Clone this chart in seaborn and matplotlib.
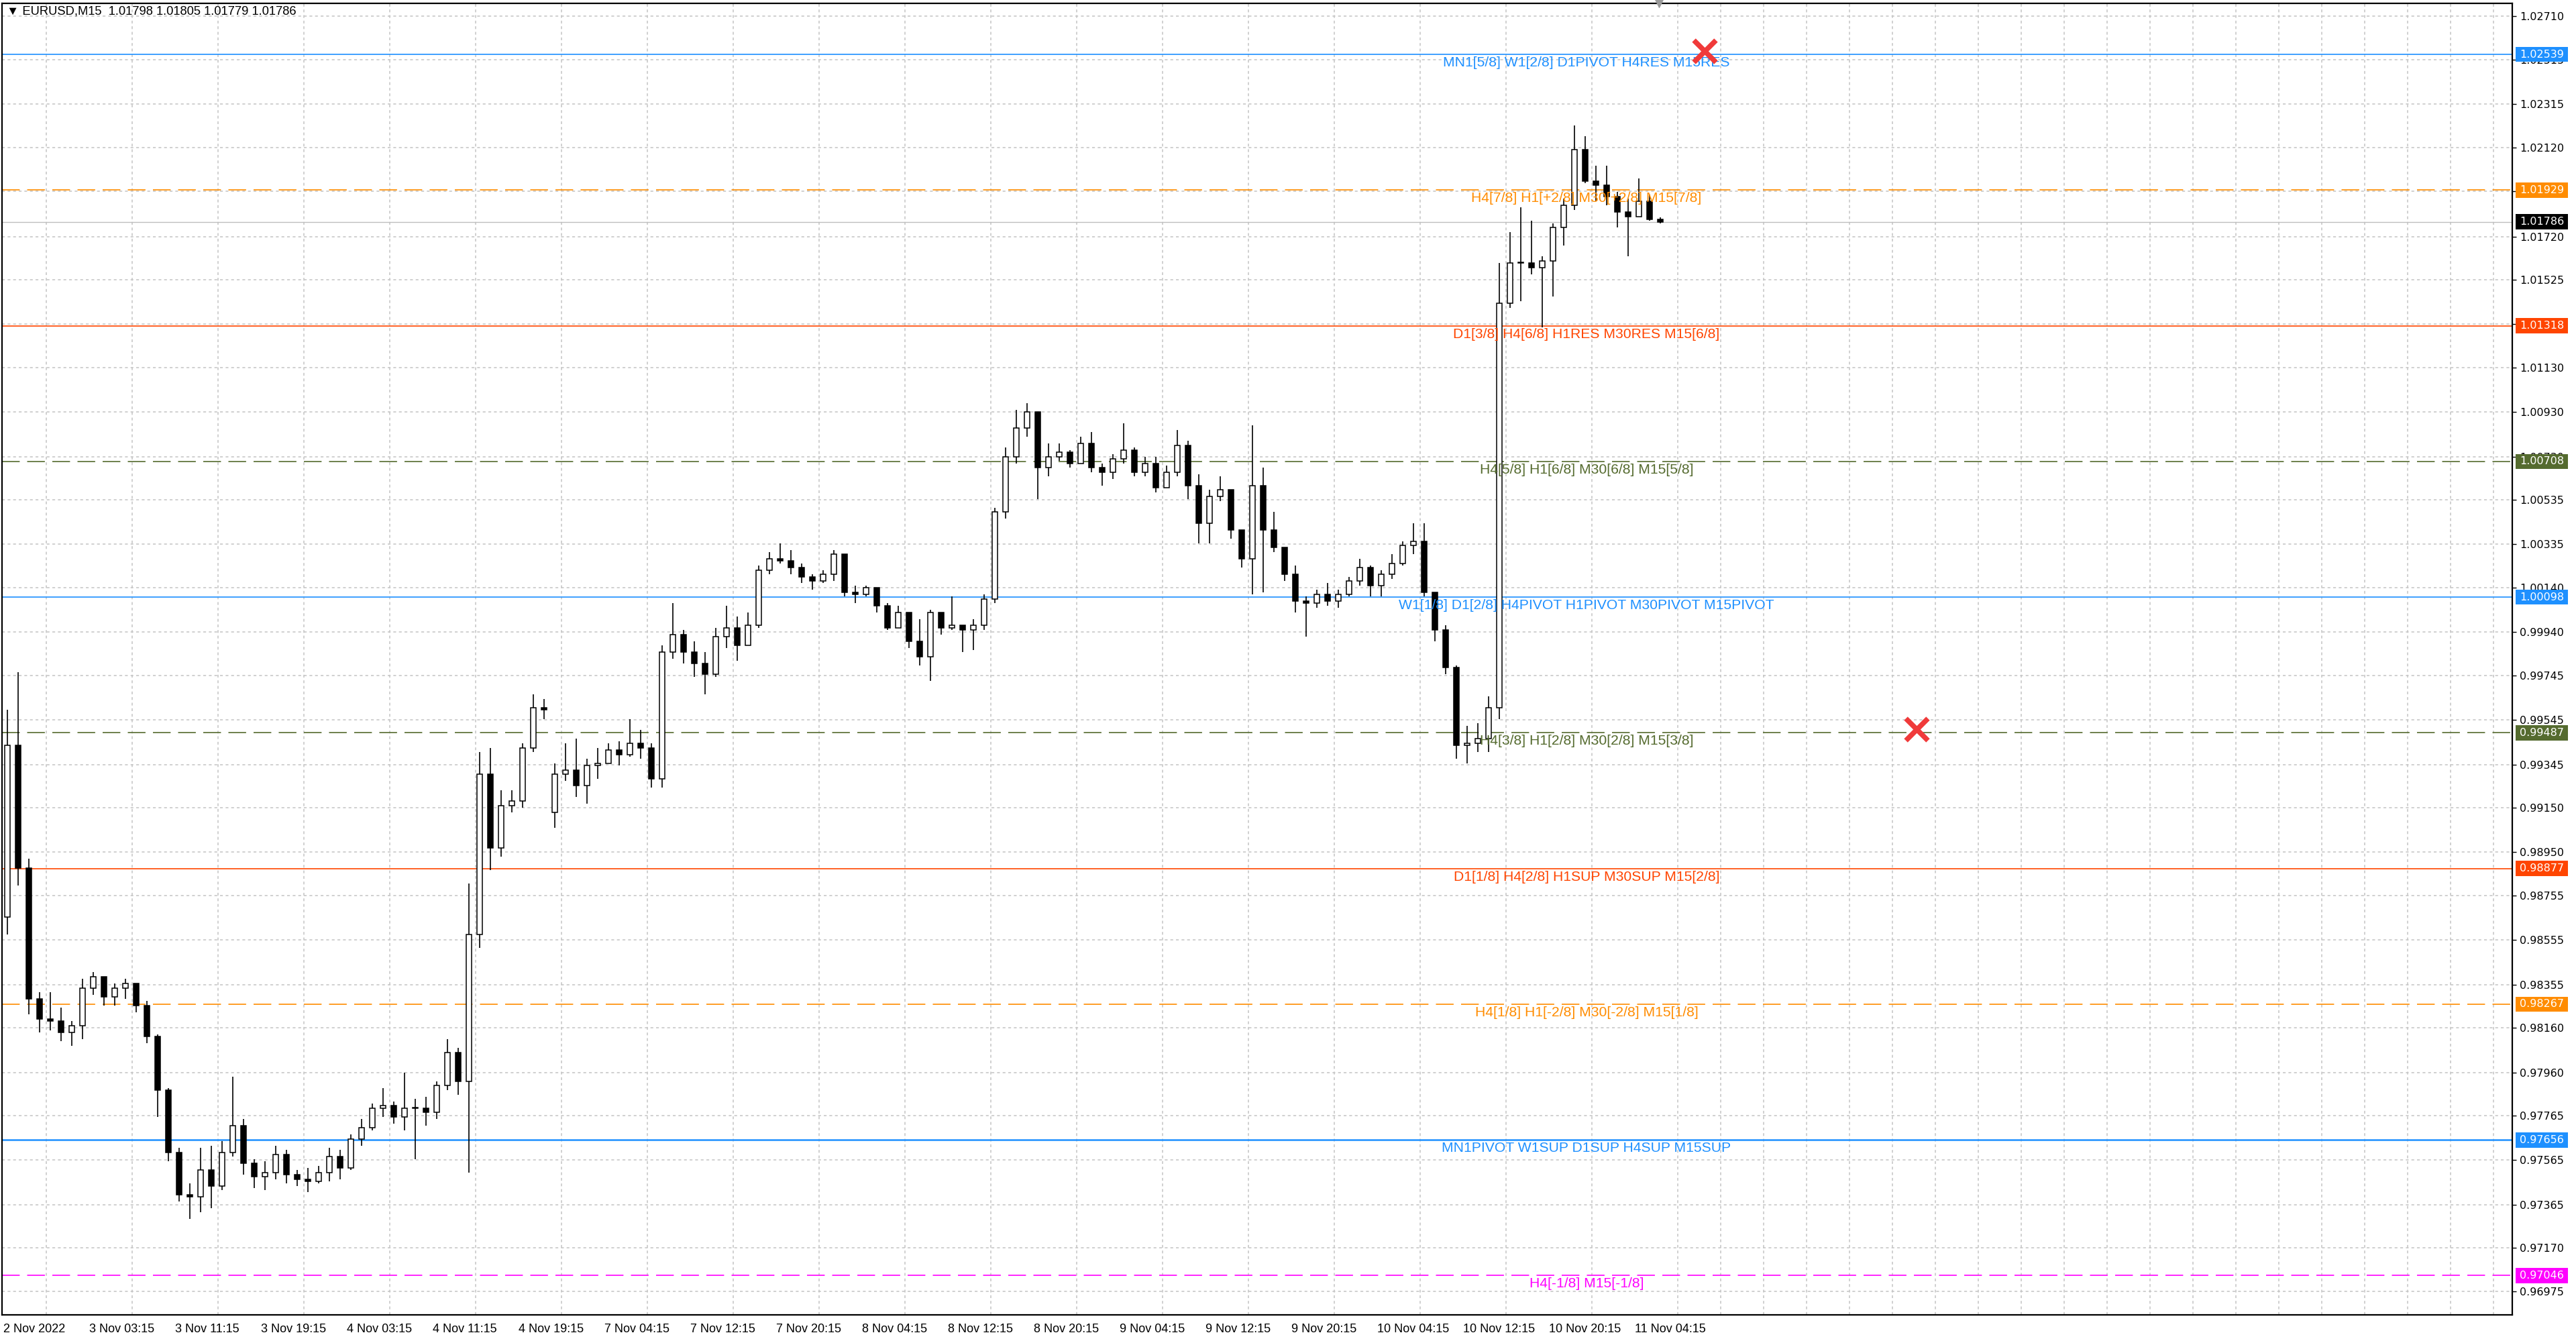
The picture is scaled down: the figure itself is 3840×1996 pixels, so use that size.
import numpy as np
import pandas as pd
import matplotlib
matplotlib.use('Agg')
import matplotlib.pyplot as plt
import matplotlib.transforms as mtransforms
from matplotlib.patches import Rectangle
import seaborn as sns

sns.set_theme(style='white')
plt.rcParams['font.family'] = ['DejaVu Sans']
plt.rcParams['lines.scale_dashes'] = False

hour_close = [
    0.9943, 0.9888, 0.9829, 0.9820, 0.9819, 0.9814, 0.9817, 0.9834, 0.9839, 0.9830,
    0.9834, 0.9836, 0.9826, 0.9812, 0.9788, 0.9760, 0.9741, 0.9740, 0.9752, 0.9745,
    0.9760, 0.9772, 0.9755, 0.9749, 0.9751, 0.9759, 0.9750, 0.9748, 0.9747, 0.9751,
    0.9758, 0.9753, 0.9766, 0.9771, 0.9780, 0.9781, 0.9776, 0.9780, 0.9780, 0.9778,
    0.9790, 0.9805, 0.9792, 0.9858, 0.9930, 0.9897, 0.9916, 0.9918, 0.9942, 0.9960,
    0.9959, 0.9930, 0.9932, 0.9925, 0.9934, 0.9935, 0.9941, 0.9939, 0.9944, 0.9942,
    0.9928, 0.9985, 0.9993, 0.9985, 0.9980, 0.9975, 0.9992, 0.9996, 0.9988, 0.9997,
    1.0022, 1.0027, 1.0026, 1.0023, 1.0019, 1.0017, 1.0020, 1.0029, 1.0012, 1.0011,
    1.0014, 1.0006, 0.9996, 1.0003, 0.9990, 0.9983, 1.0003, 0.9996, 0.9997, 0.9995,
    0.9997, 1.0009, 1.0048, 1.0073, 1.0086, 1.0093, 1.0068, 1.0073, 1.0075, 1.0070,
    1.0079, 1.0068, 1.0066, 1.0072, 1.0076, 1.0066, 1.0070, 1.0059, 1.0066, 1.0078,
    1.0060, 1.0043, 1.0055, 1.0058, 1.0040, 1.0027, 1.0060, 1.0040, 1.0032, 1.0020,
    1.0008, 1.0007, 1.0011, 1.0008, 1.0011, 1.0017, 1.0023, 1.0015, 1.0020, 1.0025,
    1.0033, 1.0035, 1.0012, 0.9995, 0.9978, 0.9943, 0.9944, 0.9946, 0.9960, 1.0142,
    1.0160, 1.0160, 1.0158, 1.0161, 1.0176, 1.0186, 1.0211, 1.0197, 1.0195, 1.0190,
    1.0183, 1.0181, 1.0188, 1.01798, 1.01786,
]
hour_high = [
    0.9959, 0.9976, 0.9892, 0.9832, 0.9832, 0.9825, 0.9819, 0.9838, 0.9841, 0.9839,
    0.9836, 0.9838, 0.9836, 0.9828, 0.9813, 0.9789, 0.9762, 0.9746, 0.9762, 0.9763,
    0.9765, 0.9794, 0.9775, 0.9757, 0.9756, 0.9763, 0.9761, 0.9752, 0.9753, 0.9754,
    0.9762, 0.9761, 0.9768, 0.9775, 0.9782, 0.9789, 0.9783, 0.9796, 0.9784, 0.9785,
    0.9792, 0.9811, 0.9807, 0.9881, 0.9940, 0.9942, 0.9923, 0.9923, 0.9944, 0.9966,
    0.9964, 0.9935, 0.9944, 0.9946, 0.9937, 0.9942, 0.9944, 0.9945, 0.9955, 0.9950,
    0.9944, 0.9988, 1.0007, 0.9995, 0.9990, 0.9985, 0.9996, 1.0006, 1.0001, 1.0003,
    1.0024, 1.0030, 1.0034, 1.0031, 1.0025, 1.0020, 1.0022, 1.0031, 1.0029, 1.0015,
    1.0015, 1.0012, 1.0007, 1.0006, 1.0000, 1.0000, 1.0004, 1.0003, 1.0010, 0.9997,
    1.0000, 1.0011, 1.0050, 1.0077, 1.0094, 1.0097, 1.0093, 1.0079, 1.0079, 1.0076,
    1.0082, 1.0084, 1.0070, 1.0074, 1.0088, 1.0077, 1.0073, 1.0073, 1.0069, 1.0085,
    1.0080, 1.0065, 1.0058, 1.0064, 1.0055, 1.0037, 1.0087, 1.0068, 1.0048, 1.0031,
    1.0024, 1.0010, 1.0013, 1.0016, 1.0013, 1.0019, 1.0027, 1.0024, 1.0022, 1.0029,
    1.0035, 1.0043, 1.0043, 1.0012, 0.9997, 0.9979, 0.9952, 0.9953, 0.9965, 1.0160,
    1.0174, 1.0185, 1.0179, 1.0163, 1.0178, 1.0189, 1.0222, 1.0217, 1.0204, 1.0204,
    1.0192, 1.0189, 1.0198, 1.0191, 1.01805,
]
hour_low = [
    0.9858, 0.9880, 0.9822, 0.9814, 0.9815, 0.9810, 0.9808, 0.9811, 0.9831, 0.9826,
    0.9826, 0.9829, 0.9823, 0.9809, 0.9776, 0.9756, 0.9738, 0.9730, 0.9733, 0.9735,
    0.9743, 0.9758, 0.9750, 0.9744, 0.9743, 0.9748, 0.9746, 0.9745, 0.9742, 0.9746,
    0.9747, 0.9748, 0.9752, 0.9763, 0.9770, 0.9776, 0.9773, 0.9770, 0.9757, 0.9772,
    0.9775, 0.9788, 0.9786, 0.9751, 0.9852, 0.9887, 0.9893, 0.9913, 0.9915, 0.9940,
    0.9955, 0.9906, 0.9927, 0.9920, 0.9917, 0.9928, 0.9935, 0.9934, 0.9938, 0.9937,
    0.9924, 0.9924, 0.9982, 0.9980, 0.9974, 0.9966, 0.9974, 0.9987, 0.9981, 0.9992,
    0.9996, 1.0020, 1.0025, 1.0020, 1.0016, 1.0013, 1.0016, 1.0017, 1.0010, 1.0007,
    1.0010, 1.0003, 0.9995, 0.9998, 0.9987, 0.9979, 0.9972, 0.9993, 0.9995, 0.9985,
    0.9986, 0.9995, 1.0007, 1.0045, 1.0070, 1.0082, 1.0054, 1.0064, 1.0071, 1.0068,
    1.0070, 1.0066, 1.0060, 1.0063, 1.0070, 1.0064, 1.0064, 1.0057, 1.0059, 1.0064,
    1.0054, 1.0034, 1.0034, 1.0053, 1.0036, 1.0023, 1.0011, 1.0012, 1.0030, 1.0017,
    1.0003, 0.9992, 1.0005, 1.0006, 1.0005, 1.0010, 1.0015, 1.0010, 1.0010, 1.0018,
    1.0024, 1.0029, 1.0010, 0.9990, 0.9975, 0.9937, 0.9935, 0.9940, 0.9940, 0.9955,
    1.0140, 1.0143, 1.0155, 1.0131, 1.0145, 1.0168, 1.0184, 1.0196, 1.0188, 1.0186,
    1.0176, 1.0163, 1.0181, 1.0179, 1.01779,
]
# session opens (start of data, Monday gap), other hours open at the previous close
gap_hours = [0, 51]
gap_opens = [0.9866, 0.9913]

## Murrey / pivot levels
level_prices = [1.02539, 1.01929, 1.01318, 1.00708, 1.00098, 0.99487, 0.98877, 0.98267, 0.97656, 0.97046]
level_names = [
    'MN1[5/8] W1[2/8] D1PIVOT H4RES M15RES',
    'H4[7/8] H1[+2/8] M30[+2/8] M15[7/8]',
    'D1[3/8] H4[6/8] H1RES M30RES M15[6/8]',
    'H4[5/8] H1[6/8] M30[6/8] M15[5/8]',
    'W1[1/8] D1[2/8] H4PIVOT H1PIVOT M30PIVOT M15PIVOT',
    'H4[3/8] H1[2/8] M30[2/8] M15[3/8]',
    'D1[1/8] H4[2/8] H1SUP M30SUP M15[2/8]',
    'H4[1/8] H1[-2/8] M30[-2/8] M15[1/8]',
    'MN1PIVOT W1SUP D1SUP H4SUP M15SUP',
    'H4[-1/8] M15[-1/8]',
]
level_colors = ['#1E90FF', '#FF8C00', '#FF4500', '#556B2F', '#1E90FF',
                '#556B2F', '#FF4500', '#FF8C00', '#1E90FF', '#FF00FF']
level_dashed = [False, True, False, True, False, True, False, True, False, True]
level_widths = [1.2, 1.2, 1.2, 1.2, 1.2, 1.2, 1.2, 1.2, 1.8, 1.2]

last_price = 1.01786
header = '\u25bc EURUSD,M15  1.01798 1.01805 1.01779 1.01786'

y_ticks = [1.02710, 1.02515, 1.02315, 1.02120, 1.01925, 1.01720, 1.01525, 1.01325, 1.01130,
           1.00930, 1.00730, 1.00535, 1.00335, 1.00140, 0.99940, 0.99745, 0.99545, 0.99345,
           0.99150, 0.98950, 0.98755, 0.98555, 0.98355, 0.98160, 0.97960, 0.97765, 0.97565,
           0.97365, 0.97170, 0.96975]
x_labels = ['2 Nov 2022', '3 Nov 03:15', '3 Nov 11:15', '3 Nov 19:15', '4 Nov 03:15',
            '4 Nov 11:15', '4 Nov 19:15', '7 Nov 04:15', '7 Nov 12:15', '7 Nov 20:15',
            '8 Nov 04:15', '8 Nov 12:15', '8 Nov 20:15', '9 Nov 04:15', '9 Nov 12:15',
            '9 Nov 20:15', '10 Nov 04:15', '10 Nov 12:15', '10 Nov 20:15', '11 Nov 04:15']

## crosses drawn on the chart (bar index, price)
cross_x = [634, 713]
cross_y = [1.02555, 0.99504]

## candle table
candles = pd.DataFrame({'close': hour_close, 'high': hour_high, 'low': hour_low})
candles['open'] = candles['close'].shift(1)
candles.loc[gap_hours, 'open'] = gap_opens
candles['bar'] = candles.index * 4 + 1.5   # M15 bar index, 4 bars per hour
candles['bull'] = candles['close'] >= candles['open']
candles['high'] = candles[['high', 'open', 'close']].max(axis=1)
candles['low'] = candles[['low', 'open', 'close']].min(axis=1)

W, H = 3840, 1996
fig = plt.figure(figsize=(W / 100, H / 100), dpi=100)
fig.patch.set_facecolor('white')
ax = fig.add_axes([3 / W, (H - 1960) / H, (3745 - 3) / W, (1960 - 5) / H])
ax.set_facecolor('white')

y_top, y_bot = 1.027688, 0.968691
ax.set_xlim(-0.5, 935)
ax.set_ylim(y_bot, y_top)

## grid
grid_dash = (0, (3, 3))
ax.set_yticks(y_ticks)
ax.set_yticklabels([f'{v:.5f}' for v in y_ticks])
ax.set_xticks(np.arange(16, 935, 16), minor=True)
ax.set_xticks([0] + [32 + 32 * i for i in range(len(x_labels) - 1)])
ax.set_xticklabels(x_labels)
ax.grid(axis='y', which='major', color='#c4c4c4', linestyle=grid_dash, linewidth=1.1)
ax.grid(axis='x', which='minor', color='#c4c4c4', linestyle=grid_dash, linewidth=1.1)
ax.grid(axis='x', which='major', visible=False)
ax.set_axisbelow(True)

ax.yaxis.tick_right()
ax.tick_params(axis='y', which='major', direction='out', length=4, width=1, color='black',
               labelsize=11.5, pad=4, labelcolor='black')
ax.tick_params(axis='x', which='major', direction='out', length=5, width=1.2, color='black',
               labelsize=13, pad=4, labelcolor='black')
ax.tick_params(axis='x', which='minor', length=0)
for lab in ax.get_xticklabels():
    lab.set_ha('left')
    lab.set_fontfamily('Liberation Sans')
for sp in ax.spines.values():
    sp.set_color('black')
    sp.set_linewidth(1.6)

## levels
label_x = 590
for p, name, col, dashed, lw in zip(level_prices, level_names, level_colors, level_dashed, level_widths):
    ax.axhline(p, color=col, linewidth=lw, linestyle=(0, (19, 8)) if dashed else '-', zorder=1.5)
    ax.annotate(name, xy=(label_x, p), xytext=(0, -3), textcoords='offset pixels',
                ha='center', va='top', color=col, fontsize=15.2, family='Liberation Sans', zorder=4)
ax.axhline(last_price, color='#bdbdbd', linewidth=1.0, zorder=1.6)

## candles: wicks, then bodies
ax.vlines(candles['bar'], candles['low'], candles['high'], color='black', linewidth=1.2, zorder=3)
body_lo = candles[['open', 'close']].min(axis=1)
body_h = (candles['close'] - candles['open']).abs().clip(lower=0.00003)
ax.bar(candles['bar'], body_h, bottom=body_lo, width=2.0,
       color=np.where(candles['bull'], 'white', 'black'), edgecolor='black', linewidth=1.1, zorder=3.2)

## crosses
sns.scatterplot(x=cross_x, y=cross_y, ax=ax, marker='x', s=560, color='#f03a3a',
                linewidth=5.5, zorder=6, legend=False)

## shift marker at the top
ax.scatter([617], [y_top], marker='v', s=70, color='#9a9a9a', clip_on=False, zorder=7)

## price tags on the right scale
blend = mtransforms.blended_transform_factory(ax.transAxes, ax.transData)
axes_w = 3745 - 3
tag_prices = level_prices[:2] + [last_price] + level_prices[2:]
tag_colors = level_colors[:2] + ['black'] + level_colors[2:]
for p, col in zip(tag_prices, tag_colors):
    ax.add_patch(Rectangle((1 + 5 / axes_w, p - 0.00034), 78 / axes_w, 0.00068,
                           transform=blend, facecolor=col, edgecolor='none', clip_on=False, zorder=8))
    ax.text(1 + 11 / axes_w, p, f'{p:.5f}', transform=blend, color='white', fontsize=11.5,
            va='center', ha='left', clip_on=False, zorder=9)

## header
ax.text(7 / axes_w, 1 - 12 / 1955, header, transform=ax.transAxes, ha='left', va='center',
        fontsize=13.2, color='black', family=['Liberation Sans', 'DejaVu Sans'], zorder=9)

fig.savefig('out.png', dpi=100, facecolor='white')
